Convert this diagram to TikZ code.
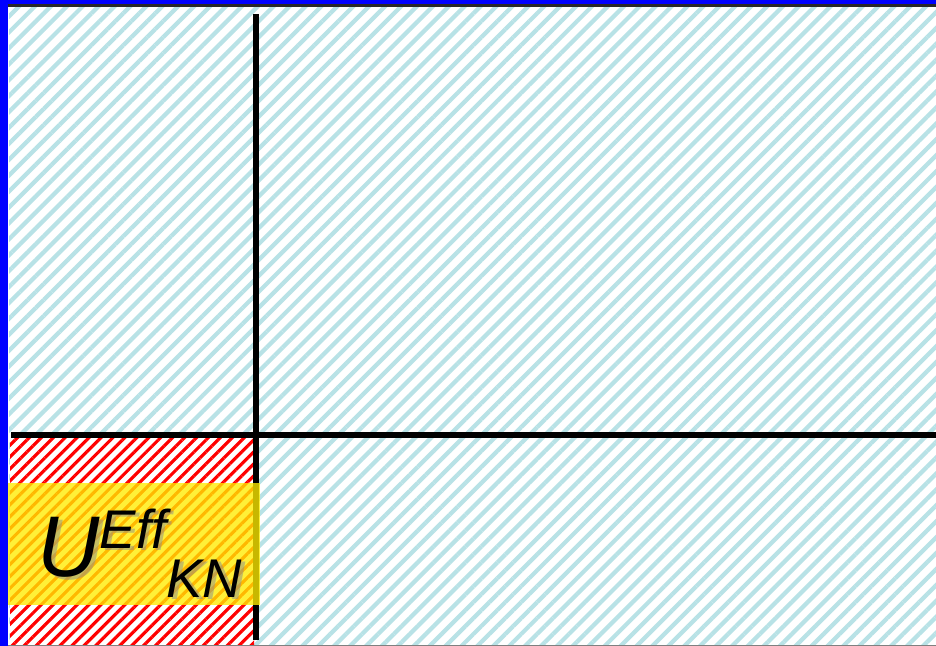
\documentclass[tikz,border=0pt]{standalone}
\usepackage{fontspec}
\setmainfont{Liberation Sans}
\usetikzlibrary{patterns.meta}
\definecolor{hatchcyan}{RGB}{184,226,230}
\definecolor{framegray}{RGB}{40,40,40}
\newcommand{\ueffkn}{\fontsize{24.5}{25}\selectfont\itshape U\raisebox{8.2pt}{\fontsize{15.5}{16}\selectfont Eff}\raisebox{-5.7pt}{\fontsize{15.5}{16}\selectfont KN}}

\begin{document}
\begin{tikzpicture}[
    x=0.01cm, y=-0.01cm,
    cyanhatch/.style={pattern={Lines[angle=45, distance=3.2pt, line width=1.2pt]}, pattern color=hatchcyan},
    redhatch/.style={pattern={Lines[angle=45, distance=2.4pt, line width=0.9pt]}, pattern color=red},
    divider/.style={line width=1.5pt, black},
    band/.style={fill=yellow!95!orange, fill opacity=0.78},
    labeltext/.style={anchor=base west, inner sep=0pt}
]
    \useasboundingbox (0,0) rectangle (936,646);

    % Regions
    \fill[white] (0,0) rectangle (936,646);
    \fill[cyanhatch] (9,5) rectangle (936,646);
    \fill[white] (10,437) rectangle (254,646);
    \fill[redhatch] (10,437) rectangle (254,646);

    % Frame
    \fill[blue] (0,0) rectangle (936,4.5);
    \fill[blue] (0,0) rectangle (8,646);
    \draw[framegray, line width=0.6pt] (8,5.5) -- (936,5.5);
    \draw[gray, line width=0.3pt] (8,645.5) -- (936,645.5);

    % Dividers
    \coordinate (vtop) at (256,14);
    \coordinate (vbot) at (256,640);
    \coordinate (hleft) at (11,435);
    \coordinate (hright) at (936,435);
    \draw[divider] (vtop) -- (vbot);
    \draw[divider] (hleft) -- (hright);

    % Label
    \fill[band] (8,483) rectangle (260,605);
    \node[labeltext, text=black!45, opacity=0.5] (shadow) at (40.5,579.5) {\ueffkn};
    \node[labeltext] (label) at (37,577) {\ueffkn};
\end{tikzpicture}
\end{document}
